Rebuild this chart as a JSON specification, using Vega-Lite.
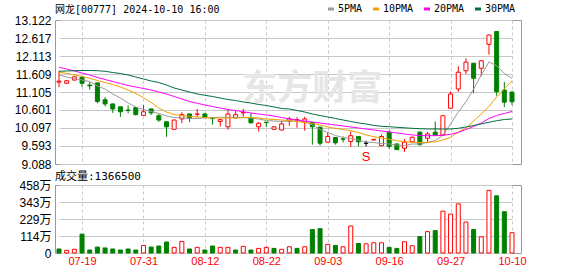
{
"$schema": "https://vega.github.io/schema/vega-lite/v6.json",
"background": "white",
"padding": {"left": 13, "top": 4, "right": 5, "bottom": 0},
"config": {
  "view": {"stroke": "#999", "strokeWidth": 1, "fill": "transparent"},
  "concat": {"spacing": -1},
  "axis": {"labelFont": "Liberation Sans", "labelFontSize": 12, "labelColor": "#000", "domain": false, "ticks": false, "grid": true, "gridColor": "#c8c8c8", "gridOpacity": 1, "gridWidth": 1, "labelPadding": 4, "zindex": 0},
  "title": {"anchor": "start", "frame": "group", "baseline": "alphabetic", "font": "DejaVu Sans Mono, Noto Sans CJK SC", "fontWeight": "normal", "color": "#000"}
},
"data": {"values": [
{"d":"07-16","o":11.38,"h":11.70,"l":11.24,"c":11.41,"v":270000,"vd":"dn","ma5":11.581,"ma10":11.657,"ma20":11.797,"ma30":11.685},
{"d":"07-17","o":11.35,"h":11.43,"l":11.34,"c":11.42,"v":180000,"vd":"up","ma5":11.525,"ma10":11.629,"ma20":11.749,"ma30":11.693},
{"d":"07-18","o":11.44,"h":11.54,"l":11.43,"c":11.53,"v":250000,"vd":"up","ma5":11.483,"ma10":11.581,"ma20":11.693,"ma30":11.702},
{"d":"07-19","o":11.52,"h":11.53,"l":11.25,"c":11.35,"v":1270000,"vd":"dn","ma5":11.441,"ma10":11.539,"ma20":11.637,"ma30":11.707},
{"d":"07-22","o":11.30,"h":11.38,"l":11.17,"c":11.28,"v":200000,"vd":"dn","ma5":11.399,"ma10":11.489,"ma20":11.581,"ma30":11.707},
{"d":"07-23","o":11.36,"h":11.37,"l":10.79,"c":10.84,"v":400000,"vd":"dn","ma5":11.273,"ma10":11.427,"ma20":11.511,"ma30":11.702},
{"d":"07-24","o":10.89,"h":10.96,"l":10.70,"c":10.77,"v":340000,"vd":"dn","ma5":11.189,"ma10":11.371,"ma20":11.455,"ma30":11.685},
{"d":"07-25","o":10.77,"h":10.78,"l":10.52,"c":10.63,"v":270000,"vd":"dn","ma5":11.049,"ma10":11.315,"ma20":11.399,"ma30":11.651},
{"d":"07-26","o":10.69,"h":10.70,"l":10.41,"c":10.55,"v":200000,"vd":"dn","ma5":10.937,"ma10":11.245,"ma20":11.343,"ma30":11.623},
{"d":"07-29","o":10.60,"h":10.73,"l":10.51,"c":10.59,"v":270000,"vd":"dn","ma5":10.797,"ma10":11.161,"ma20":11.287,"ma30":11.581},
{"d":"07-30","o":10.67,"h":10.68,"l":10.45,"c":10.47,"v":200000,"vd":"dn","ma5":10.685,"ma10":11.063,"ma20":11.245,"ma30":11.525},
{"d":"07-31","o":10.45,"h":10.74,"l":10.44,"c":10.55,"v":510000,"vd":"up","ma5":10.615,"ma10":10.951,"ma20":11.203,"ma30":11.469},
{"d":"08-01","o":10.63,"h":10.64,"l":10.46,"c":10.52,"v":400000,"vd":"dn","ma5":10.559,"ma10":10.811,"ma20":11.161,"ma30":11.413},
{"d":"08-02","o":10.44,"h":10.49,"l":10.27,"c":10.32,"v":470000,"vd":"dn","ma5":10.503,"ma10":10.657,"ma20":11.105,"ma30":11.371},
{"d":"08-05","o":10.27,"h":10.28,"l":9.85,"c":10.13,"v":740000,"vd":"dn","ma5":10.433,"ma10":10.545,"ma20":11.049,"ma30":11.301},
{"d":"08-06","o":10.06,"h":10.33,"l":10.05,"c":10.32,"v":380000,"vd":"up","ma5":10.391,"ma10":10.475,"ma20":10.979,"ma30":11.217},
{"d":"08-07","o":10.35,"h":10.54,"l":10.23,"c":10.47,"v":780000,"vd":"up","ma5":10.377,"ma10":10.447,"ma20":10.909,"ma30":11.161},
{"d":"08-08","o":10.49,"h":10.50,"l":10.26,"c":10.37,"v":270000,"vd":"dn","ma5":10.368,"ma10":10.424,"ma20":10.839,"ma30":11.105},
{"d":"08-09","o":10.48,"h":10.63,"l":10.40,"c":10.49,"v":380000,"vd":"up","ma5":10.363,"ma10":10.405,"ma20":10.789,"ma30":11.049},
{"d":"08-12","o":10.49,"h":10.52,"l":10.37,"c":10.40,"v":200000,"vd":"dn","ma5":10.377,"ma10":10.391,"ma20":10.741,"ma30":11.013},
{"d":"08-13","o":10.37,"h":10.40,"l":10.19,"c":10.36,"v":470000,"vd":"dn","ma5":10.391,"ma10":10.377,"ma20":10.699,"ma30":10.979},
{"d":"08-14","o":10.28,"h":10.34,"l":10.14,"c":10.33,"v":380000,"vd":"up","ma5":10.396,"ma10":10.377,"ma20":10.657,"ma30":10.937},
{"d":"08-15","o":10.13,"h":10.60,"l":10.05,"c":10.49,"v":380000,"vd":"up","ma5":10.396,"ma10":10.377,"ma20":10.615,"ma30":10.895},
{"d":"08-16","o":10.38,"h":10.58,"l":10.37,"c":10.47,"v":200000,"vd":"dn","ma5":10.396,"ma10":10.377,"ma20":10.587,"ma30":10.867},
{"d":"08-19","o":10.52,"h":10.63,"l":10.41,"c":10.53,"v":450000,"vd":"up","ma5":10.391,"ma10":10.385,"ma20":10.553,"ma30":10.825},
{"d":"08-20","o":10.38,"h":10.52,"l":10.23,"c":10.24,"v":200000,"vd":"dn","ma5":10.377,"ma10":10.391,"ma20":10.517,"ma30":10.797},
{"d":"08-21","o":10.13,"h":10.26,"l":10.00,"c":10.23,"v":310000,"vd":"up","ma5":10.349,"ma10":10.377,"ma20":10.489,"ma30":10.755},
{"d":"08-22","o":10.26,"h":10.26,"l":10.12,"c":10.25,"v":380000,"vd":"up","ma5":10.307,"ma10":10.349,"ma20":10.461,"ma30":10.727},
{"d":"08-23","o":10.06,"h":10.14,"l":10.05,"c":10.13,"v":310000,"vd":"dn","ma5":10.293,"ma10":10.335,"ma20":10.433,"ma30":10.685},
{"d":"08-26","o":10.04,"h":10.30,"l":10.03,"c":10.21,"v":250000,"vd":"up","ma5":10.279,"ma10":10.321,"ma20":10.391,"ma30":10.643},
{"d":"08-27","o":10.29,"h":10.41,"l":10.16,"c":10.35,"v":420000,"vd":"up","ma5":10.293,"ma10":10.301,"ma20":10.349,"ma30":10.629},
{"d":"08-28","o":10.32,"h":10.40,"l":10.10,"c":10.33,"v":310000,"vd":"dn","ma5":10.293,"ma10":10.279,"ma20":10.321,"ma30":10.587},
{"d":"08-29","o":10.26,"h":10.41,"l":10.02,"c":10.35,"v":420000,"vd":"up","ma5":10.284,"ma10":10.251,"ma20":10.293,"ma30":10.545},
{"d":"08-30","o":10.25,"h":10.26,"l":9.63,"c":10.13,"v":1580000,"vd":"dn","ma5":10.181,"ma10":10.223,"ma20":10.265,"ma30":10.489,"wm":"东方财富"},
{"d":"09-02","o":10.12,"h":10.13,"l":9.60,"c":9.67,"v":1640000,"vd":"dn","ma5":10.055,"ma10":10.181,"ma20":10.237,"ma30":10.447},
{"d":"09-03","o":9.70,"h":9.98,"l":9.69,"c":9.86,"v":580000,"vd":"up","ma5":9.971,"ma10":10.125,"ma20":10.209,"ma30":10.405},
{"d":"09-04","o":9.83,"h":9.84,"l":9.63,"c":9.68,"v":510000,"vd":"dn","ma5":9.887,"ma10":10.083,"ma20":10.181,"ma30":10.363},
{"d":"09-05","o":9.79,"h":9.86,"l":9.69,"c":9.78,"v":420000,"vd":"up","ma5":9.831,"ma10":10.055,"ma20":10.153,"ma30":10.321},
{"d":"09-09","o":9.72,"h":10.00,"l":9.57,"c":9.88,"v":1820000,"vd":"up","ma5":9.803,"ma10":10.021,"ma20":10.125,"ma30":10.279},
{"d":"09-10","o":9.86,"h":9.87,"l":9.58,"c":9.71,"v":640000,"vd":"dn","ma5":9.761,"ma10":9.971,"ma20":10.097,"ma30":10.237},
{"d":"09-11","o":9.67,"h":9.74,"l":9.58,"c":9.67,"v":620000,"vd":"up","ma5":9.705,"ma10":9.901,"ma20":10.069,"ma30":10.209,"sig":"S"},
{"d":"09-12","o":9.76,"h":9.79,"l":9.75,"c":9.78,"v":690000,"vd":"up","ma5":9.690,"ma10":9.853,"ma20":10.041,"ma30":10.167},
{"d":"09-13","o":9.60,"h":9.91,"l":9.59,"c":9.86,"v":690000,"vd":"up","ma5":9.662,"ma10":9.817,"ma20":10.013,"ma30":10.144},
{"d":"09-16","o":9.98,"h":10.03,"l":9.51,"c":9.58,"v":380000,"vd":"dn","ma5":9.648,"ma10":9.780,"ma20":9.985,"ma30":10.133},
{"d":"09-17","o":9.65,"h":9.66,"l":9.49,"c":9.49,"v":310000,"vd":"dn","ma5":9.620,"ma10":9.741,"ma20":9.957,"ma30":10.116},
{"d":"09-19","o":9.53,"h":9.79,"l":9.43,"c":9.70,"v":760000,"vd":"up","ma5":9.606,"ma10":9.713,"ma20":9.929,"ma30":10.102},
{"d":"09-20","o":9.71,"h":9.85,"l":9.70,"c":9.84,"v":490000,"vd":"up","ma5":9.648,"ma10":9.696,"ma20":9.901,"ma30":10.088},
{"d":"09-23","o":9.98,"h":10.00,"l":9.60,"c":9.63,"v":1110000,"vd":"dn","ma5":9.648,"ma10":9.690,"ma20":9.887,"ma30":10.077},
{"d":"09-24","o":9.81,"h":9.99,"l":9.71,"c":9.93,"v":1440000,"vd":"up","ma5":9.690,"ma10":9.696,"ma20":9.881,"ma30":10.069},
{"d":"09-25","o":9.98,"h":10.28,"l":9.88,"c":9.90,"v":1510000,"vd":"dn","ma5":9.747,"ma10":9.705,"ma20":9.881,"ma30":10.069},
{"d":"09-26","o":9.90,"h":10.45,"l":9.89,"c":10.44,"v":2820000,"vd":"up","ma5":9.90,"ma10":9.761,"ma20":9.892,"ma30":10.069},
{"d":"09-27","o":10.65,"h":11.12,"l":10.64,"c":11.05,"v":2620000,"vd":"up","ma5":10.21,"ma10":9.831,"ma20":9.920,"ma30":10.069},
{"d":"09-30","o":11.19,"h":11.83,"l":11.11,"c":11.66,"v":3310000,"vd":"up","ma5":10.54,"ma10":9.985,"ma20":9.971,"ma30":10.088},
{"d":"10-02","o":11.70,"h":12.05,"l":11.61,"c":11.94,"v":2090000,"vd":"up","ma5":10.83,"ma10":10.097,"ma20":10.055,"ma30":10.125},
{"d":"10-03","o":11.91,"h":11.92,"l":11.07,"c":11.49,"v":1580000,"vd":"dn","ma5":11.19,"ma10":10.293,"ma20":10.139,"ma30":10.167},
{"d":"10-04","o":11.77,"h":12.00,"l":11.55,"c":11.98,"v":1090000,"vd":"up","ma5":11.58,"ma10":10.489,"ma20":10.237,"ma30":10.209},
{"d":"10-07","o":12.44,"h":12.71,"l":12.15,"c":12.70,"v":4220000,"vd":"up","ma5":11.945,"ma10":10.699,"ma20":10.363,"ma30":10.258},
{"d":"10-08","o":12.80,"h":12.81,"l":11.00,"c":11.11,"v":3850000,"vd":"dn","ma5":11.842,"ma10":10.965,"ma20":10.447,"ma30":10.300},
{"d":"10-09","o":11.16,"h":11.39,"l":10.68,"c":10.82,"v":2780000,"vd":"dn","ma5":11.621,"ma10":11.189,"ma20":10.503,"ma30":10.335},
{"d":"10-10","o":11.10,"h":11.14,"l":10.74,"c":10.83,"v":1366500,"vd":"up","ma5":11.489,"ma10":11.413,"ma20":10.559,"ma30":10.349}
]},
"vconcat": [
 {
  "width": 466, "height": 144,
  "title": {"text": "网龙[00777] 2024-10-10 16:00", "fontSize": 10, "offset": -1},
  "encoding": {
    "x": {"field": "d", "type": "ordinal", "sort": null,
          "scale": {"type": "point", "range": [4, 457], "padding": 0},
          "axis": {"values": ["07-19","07-31","08-12","08-22","09-03","09-16","09-27","10-10"], "labels": false, "grid": true, "gridDash": [3,3], "gridColor": "#c8c8c8", "title": null, "zindex": 0}}
  },
  "layer": [
    {"mark": {"type": "rule", "strokeWidth": 1},
     "encoding": {
       "y": {"field": "l", "type": "quantitative", "scale": {"domain": [9.088, 13.122], "nice": false, "zero": false},
             "axis": {"values": [9.088, 9.593, 10.097, 10.601, 11.105, 11.609, 12.113, 12.617, 13.122], "format": ".3f", "grid": true, "gridColor": "#c8c8c8", "labelOverlap": false, "title": null, "zindex": 0}},
       "y2": {"field": "h"},
       "stroke": {"condition": [{"test": "datum.c > datum.o", "value": "#ff0000"}, {"test": "datum.c < datum.o", "value": "#008000"}], "value": "#000000"}
     }},
    {"transform": [{"filter": "datum.wm"}],
     "mark": {"type": "text", "font": "Noto Sans CJK SC", "fontSize": 35, "fontWeight": "bold", "color": "#e6e6e6"},
     "encoding": {
       "y": {"datum": 11.18, "type": "quantitative", "scale": {"domain": [9.088, 13.122], "nice": false, "zero": false},
             "axis": {"values": [9.088, 9.593, 10.097, 10.601, 11.105, 11.609, 12.113, 12.617, 13.122], "format": ".3f", "grid": true, "gridColor": "#c8c8c8", "labelOverlap": false, "title": null, "zindex": 0}},
       "text": {"field": "wm"}}},
    {"mark": {"type": "bar", "width": 4, "strokeWidth": 1},
     "encoding": {
       "y": {"field": "o", "type": "quantitative", "scale": {"domain": [9.088, 13.122], "nice": false, "zero": false},
             "axis": {"values": [9.088, 9.593, 10.097, 10.601, 11.105, 11.609, 12.113, 12.617, 13.122], "format": ".3f", "grid": true, "gridColor": "#c8c8c8", "labelOverlap": false, "title": null, "zindex": 0}},
       "y2": {"field": "c"},
       "fill": {"condition": [{"test": "datum.c > datum.o", "value": "#ffffff"}, {"test": "datum.c < datum.o", "value": "#008000"}], "value": "#000000"},
       "stroke": {"condition": [{"test": "datum.c > datum.o", "value": "#ff0000"}, {"test": "datum.c < datum.o", "value": "#008000"}], "value": "#000000"}
     }},
    {"transform": [{"fold": ["ma5", "ma10", "ma20", "ma30"], "as": ["k", "val"]}],
     "mark": {"type": "line", "strokeWidth": 1},
     "encoding": {
       "y": {"field": "val", "type": "quantitative", "scale": {"domain": [9.088, 13.122], "nice": false, "zero": false},
             "axis": {"values": [9.088, 9.593, 10.097, 10.601, 11.105, 11.609, 12.113, 12.617, 13.122], "format": ".3f", "grid": true, "gridColor": "#c8c8c8", "labelOverlap": false, "title": null, "zindex": 0}},
       "color": {"field": "k", "type": "nominal",
                 "scale": {"domain": ["ma5", "ma10", "ma20", "ma30"], "range": ["#9a9a9a", "#f0a000", "#ff00ff", "#00703c"]},
                 "legend": {"orient": "none", "legendX": 271, "legendY": -16, "direction": "horizontal", "columns": 4, "gridAlign": "none", "title": null,
                            "symbolType": "stroke", "symbolSize": 36, "symbolStrokeWidth": 3,
                            "labelFont": "DejaVu Sans Mono", "labelFontSize": 10, "labelColor": "#000", "labelOffset": 2, "columnPadding": 4,
                            "labelExpr": "datum.label == 'ma5' ? '5PMA' : datum.label == 'ma10' ? '10PMA' : datum.label == 'ma20' ? '20PMA' : '30PMA'"}}
     }},
    {"transform": [{"filter": "datum.sig"}],
     "mark": {"type": "text", "color": "#ff0000", "fontSize": 13, "baseline": "top", "dy": 5, "font": "Liberation Sans"},
     "encoding": {
       "y": {"field": "l", "type": "quantitative", "scale": {"domain": [9.088, 13.122], "nice": false, "zero": false},
             "axis": {"values": [9.088, 9.593, 10.097, 10.601, 11.105, 11.609, 12.113, 12.617, 13.122], "format": ".3f", "grid": true, "gridColor": "#c8c8c8", "labelOverlap": false, "title": null, "zindex": 0}},
       "text": {"field": "sig"}
     }}
  ]
 },
 {
  "width": 466, "height": 68,
  "title": {"text": "成交量:1366500", "fontSize": 11, "offset": -3},
  "mark": {"type": "bar", "width": 4, "strokeWidth": 1},
  "encoding": {
    "x": {"field": "d", "type": "ordinal", "sort": null,
          "scale": {"type": "point", "range": [4, 457], "padding": 0},
          "axis": {"values": ["07-19","07-31","08-12","08-22","09-03","09-16","09-27","10-10"], "grid": true, "gridDash": [3,3], "gridColor": "#c8c8c8", "labelColor": "#ff0000", "labelFontSize": 11, "labelPadding": 2, "labelAngle": 0, "title": null, "zindex": 0}},
    "y": {"field": "v", "type": "quantitative", "scale": {"domain": [0, 4580000], "nice": false},
          "axis": {"values": [0, 1145000, 2290000, 3435000, 4580000], "grid": true, "gridColor": "#c8c8c8", "labelOverlap": false, "title": null, "zindex": 0, "labelFont": "Liberation Sans, Noto Sans CJK SC",
                   "labelExpr": "datum.value == 0 ? '0' : floor(datum.value / 10000) + '万'"}},
    "fill": {"condition": {"test": "datum.vd == 'up'", "value": "#ffffff"}, "value": "#008000"},
    "stroke": {"condition": {"test": "datum.vd == 'up'", "value": "#ff0000"}, "value": "#008000"}
  }
 }
]
}
